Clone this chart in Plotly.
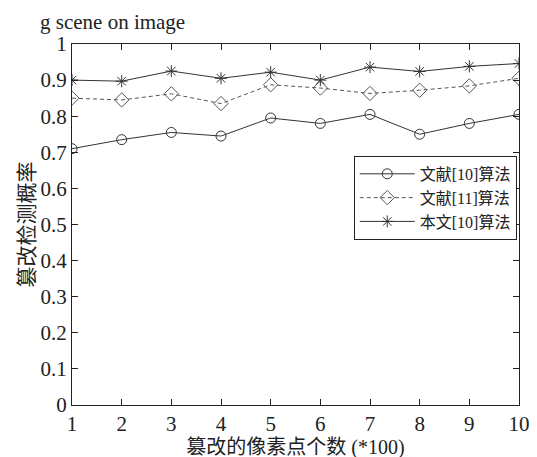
import plotly.graph_objects as go

x_vals = [1, 2, 3, 4, 5, 6, 7, 8, 9, 10]
ref10 = [0.71, 0.735, 0.755, 0.745, 0.795, 0.78, 0.805, 0.75, 0.78, 0.805]
ref11 = [0.85, 0.845, 0.862, 0.835, 0.887, 0.878, 0.863, 0.872, 0.884, 0.905]
ours = [0.90, 0.897, 0.925, 0.905, 0.922, 0.90, 0.936, 0.924, 0.938, 0.946]
names = ["文献[10]算法", "文献[11]算法", "本文[10]算法"]
y_ticks = [0, 0.1, 0.2, 0.3, 0.4, 0.5, 0.6, 0.7, 0.8, 0.9, 1]
y_tick_text = ["0", "0.1", "0.2", "0.3", "0.4", "0.5", "0.6", "0.7", "0.8", "0.9", "1"]

FONT = "'Liberation Serif', 'Noto Sans CJK SC', serif"
INK = "#333333"

fig = go.Figure()
fig.add_trace(go.Scatter(
    x=x_vals, y=ref10, name=names[0], mode="lines+markers",
    line=dict(color=INK, width=1),
    marker=dict(symbol="circle-open", size=10, color=INK, line=dict(width=1)),
))
fig.add_trace(go.Scatter(
    x=x_vals, y=ref11, name=names[1], mode="lines+markers",
    line=dict(color="#555555", width=1, dash="4px,3px"),
    marker=dict(symbol="diamond-open", size=11, color="#555555", line=dict(width=1)),
))
fig.add_trace(go.Scatter(
    x=x_vals, y=ours, name=names[2], mode="lines+markers",
    line=dict(color=INK, width=1),
    marker=dict(symbol="asterisk-open", size=10, color=INK, line=dict(width=1)),
))

fig.update_layout(
    width=537, height=457,
    margin=dict(l=64, r=26, t=36, b=60),
    paper_bgcolor="white", plot_bgcolor="white",
    font=dict(family=FONT, size=19, color="#222222"),
    showlegend=True,
    legend=dict(
        x=0.995, y=0.69, xanchor="right", yanchor="top",
        bgcolor="white", bordercolor="#222222", borderwidth=1,
        font=dict(family=FONT, size=16, color="#222222"),
        itemwidth=55, tracegroupgap=0,
    ),
    xaxis=dict(
        range=[1, 10], tickmode="array", tickvals=x_vals,
        ticks="inside", ticklen=6, tickcolor="#222222",
        showline=True, linecolor="#222222", linewidth=1, mirror="ticks",
        showgrid=False, zeroline=False,
        tickfont=dict(family=FONT, size=21),
        title=dict(text="篡改的像素点个数 (*100)", font=dict(family=FONT, size=20), standoff=0),
    ),
    yaxis=dict(
        range=[0, 1], tickmode="array", tickvals=y_ticks, ticktext=y_tick_text,
        ticks="inside", ticklen=6, tickcolor="#222222",
        showline=True, linecolor="#222222", linewidth=1, mirror="ticks",
        showgrid=False, zeroline=False,
        tickfont=dict(family=FONT, size=21),
        title=dict(text="篡改检测概率", font=dict(family=FONT, size=21), standoff=0),
    ),
    annotations=[
        dict(text="g scene on image", xref="paper", yref="paper",
             x=-0.075, y=1.0, yshift=36, xanchor="left", yanchor="top",
             showarrow=False, font=dict(family=FONT, size=21, color="#222222")),
    ],
)

fig.write_html("out.html")
